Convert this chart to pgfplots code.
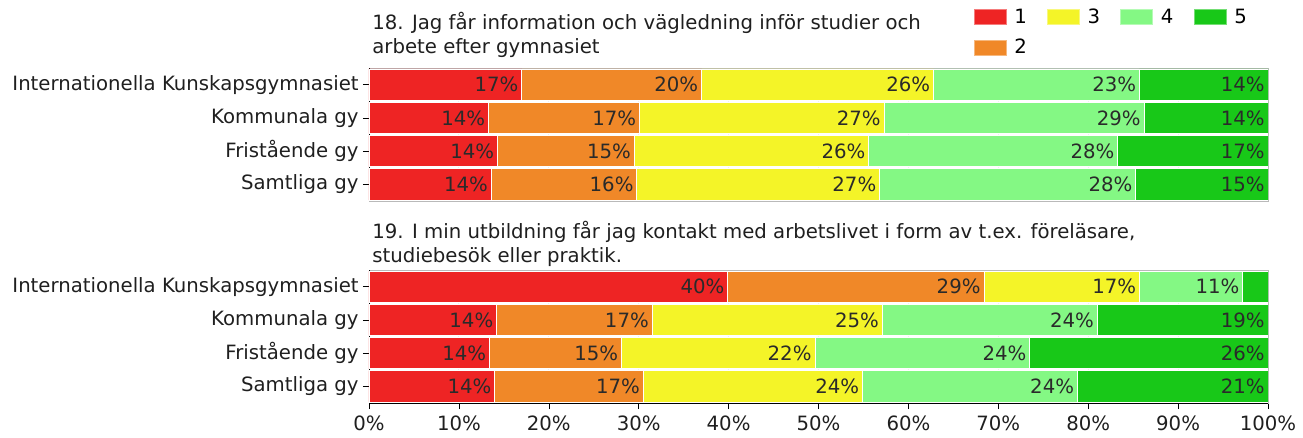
\documentclass[border=0pt]{standalone}
\usepackage{fontspec}
\setmainfont{DejaVu Sans}
\usepackage{pgfplots}
\pgfplotsset{compat=1.18}
\usepackage{pgfplotstable}

\definecolor{c1}{HTML}{EE2424}
\definecolor{c2}{HTML}{F08828}
\definecolor{c3}{HTML}{F4F428}
\definecolor{c4}{HTML}{84F884}
\definecolor{c5}{HTML}{18C818}
\definecolor{lbl}{HTML}{2A2A2A}

\pgfplotstableread{
y v1 v2 v3 v4 v5 l1 l2 l3 l4 l5
0 17.0 20.0 25.8 22.9 14.3 17\% 20\% 26\% 23\% 14\%
1 13.3 16.8 27.2 28.9 13.8 14\% 17\% 27\% 29\% 14\%
2 14.3 15.2 26.1 27.7 16.7 14\% 15\% 26\% 28\% 17\%
3 13.6 16.2 27.0 28.5 14.7 14\% 16\% 27\% 28\% 15\%
}\tabA

\pgfplotstableread{
y v1 v2 v3 v4 v5 l1 l2 l3 l4 l5
0 39.9 28.5 17.3 11.5 2.8 40\% 29\% 17\% 11\% {}
1 14.2 17.3 25.6 23.9 19.0 14\% 17\% 25\% 24\% 19\%
2 13.4 14.7 21.5 23.9 26.5 14\% 15\% 22\% 24\% 26\%
3 14.0 16.5 24.4 23.9 21.2 14\% 17\% 24\% 24\% 21\%
}\tabB

\pgfplotsset{
  panel/.style={
    scale only axis,
    width=449.5pt,
    xmin=0, xmax=100,
    ymin=-0.5, ymax=3.5,
    y dir=reverse,
    xbar stacked,
    bar width=0.94,
    axis line style={draw=gray!55},
    xmajorgrids,
    grid style={draw=gray!12},
    xtick={0,10,...,100},
    ytick={0,1,2,3},
    yticklabels={Internationella Kunskapsgymnasiet, Kommunala gy, Fristående gy, Samtliga gy},
    tick align=outside,
    major tick length=3pt,
    ytick pos=left,
    xtick pos=bottom,
    ytick style={draw=black},
    yticklabel style={inner sep=2pt, text=black!88},
    point meta=explicit symbolic,
    visualization depends on={rawx \as \rawx},
    nodes near coords,
    nodes near coords style={anchor=east, inner sep=1.5pt, text=lbl,
      xshift={\rawx*2.2475pt}},
    legend image code/.code={\draw[#1] (0pt,-3.75pt) rectangle (16pt,3.75pt);},
  },
  seg/.style={draw=white, line width=0.4pt, fill=#1},
}

\begin{document}
\fontsize{9.85pt}{12pt}\selectfont
\begin{tikzpicture}
\useasboundingbox (0,0) rectangle (651.5pt,-219pt);

\begin{axis}[panel,
  at={(184.5pt,-100.5pt)}, anchor=south west,
  height=66.5pt,
  xticklabels={}, xtick style={draw=none},
  legend columns=4,
  legend style={draw=none, fill=none, at={(0.672,1.48)}, anchor=north west,
    inner sep=0pt, row sep=2.5pt,
    /tikz/every odd column/.append style={column sep=2pt},
    /tikz/every even column/.append style={column sep=8pt}},
]
\addlegendimage{fill=c1, draw=c1!60!white}\addlegendentry{1}
\addlegendimage{fill=c3, draw=c3!60!white}\addlegendentry{3}
\addlegendimage{fill=c4, draw=c4!60!white}\addlegendentry{4}
\addlegendimage{fill=c5, draw=c5!60!white}\addlegendentry{5}
\addlegendimage{fill=c2, draw=c2!60!white}\addlegendentry{2}
\addplot[seg=c1, forget plot] table[x=v1, y=y, meta=l1] {\tabA};
\addplot[seg=c2, forget plot] table[x=v2, y=y, meta=l2] {\tabA};
\addplot[seg=c3, forget plot] table[x=v3, y=y, meta=l3] {\tabA};
\addplot[seg=c4, forget plot] table[x=v4, y=y, meta=l4] {\tabA};
\addplot[seg=c5, forget plot] table[x=v5, y=y, meta=l5] {\tabA};
\draw[black] (rel axis cs:0,0) -- (rel axis cs:0,1);
\end{axis}

\begin{axis}[panel,
  at={(184.5pt,-201.5pt)}, anchor=south west,
  height=66.5pt,
  xticklabels={0\%,10\%,20\%,30\%,40\%,50\%,60\%,70\%,80\%,90\%,100\%},
  xtick style={draw=black},
  xticklabel style={text=black!88, inner sep=3pt},
]
\addplot[seg=c1] table[x=v1, y=y, meta=l1] {\tabB};
\addplot[seg=c2] table[x=v2, y=y, meta=l2] {\tabB};
\addplot[seg=c3] table[x=v3, y=y, meta=l3] {\tabB};
\addplot[seg=c4] table[x=v4, y=y, meta=l4] {\tabB};
\addplot[seg=c5] table[x=v5, y=y, meta=l5] {\tabB};
\draw[black] (rel axis cs:0,0) -- (rel axis cs:0,1);
\draw[black] (rel axis cs:0,0) -- (rel axis cs:1,0);
\end{axis}

\node[anchor=north west, align=left, inner sep=0pt, text=black!88] at (186pt,-6pt)
  {18. Jag får information och vägledning inför studier och\\arbete efter gymnasiet};
\node[anchor=north west, align=left, inner sep=0pt, text=black!88] at (186pt,-110.5pt)
  {19. I min utbildning får jag kontakt med arbetslivet i form av t.ex. föreläsare,\\studiebesök eller praktik.};
\end{tikzpicture}
\end{document}
